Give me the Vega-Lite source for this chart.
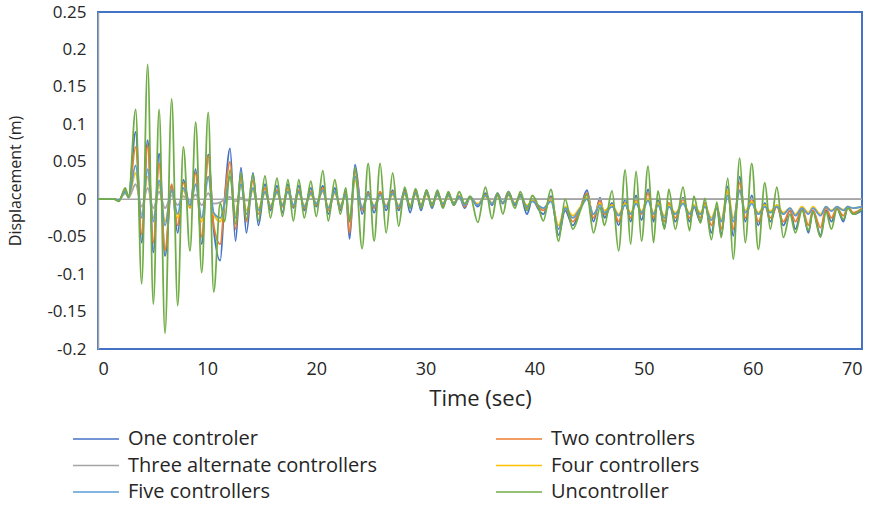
{
  "$schema": "https://vega.github.io/schema/vega-lite/v6.json",
  "width": 764,
  "height": 337,
  "autosize": {"type": "none"},
  "padding": {"left": 98, "top": 12, "right": 20, "bottom": 156},
  "background": "white",
  "config": {"font": "Open Sans", "view": {"stroke": "#4472C4", "strokeWidth": 2}},
  "data": {"values": [
    {"t":0,"g":0,"b":0,"o":0,"gr":0,"y4":0,"lb":0},
    {"t":1.5,"g":0,"b":0,"o":0,"gr":0,"y4":0,"lb":0},
    {"t":1.9,"g":-0.003,"b":-0.002,"o":-0.002,"gr":-0.001,"y4":-0.001,"lb":-0.001},
    {"t":2.5,"g":0.015,"b":0.012,"o":0.012,"gr":0.008,"y4":0.01,"lb":0.01},
    {"t":2.8,"g":0.002,"b":0.003,"o":0.003,"gr":0.002,"y4":0.003,"lb":0.003},
    {"t":3.45,"g":0.12,"b":0.09,"o":0.07,"gr":0.02,"y4":0.035,"lb":0.045},
    {"t":4.0,"g":-0.113,"b":-0.058,"o":-0.047,"gr":-0.01,"y4":-0.02,"lb":-0.025},
    {"t":4.55,"g":0.18,"b":0.079,"o":0.072,"gr":0.015,"y4":0.03,"lb":0.04},
    {"t":5.07,"g":-0.14,"b":-0.071,"o":-0.058,"gr":-0.012,"y4":-0.025,"lb":-0.03},
    {"t":5.6,"g":0.12,"b":0.061,"o":0.048,"gr":0.01,"y4":0.02,"lb":0.025},
    {"t":6.14,"g":-0.179,"b":-0.076,"o":-0.068,"gr":-0.012,"y4":-0.03,"lb":-0.035},
    {"t":6.75,"g":0.134,"b":0.017,"o":0.02,"gr":0.005,"y4":0.01,"lb":0.012},
    {"t":7.3,"g":-0.142,"b":-0.045,"o":-0.035,"gr":-0.008,"y4":-0.025,"lb":-0.02},
    {"t":7.82,"g":0.07,"b":0.026,"o":0.022,"gr":0.004,"y4":0.012,"lb":0.015},
    {"t":8.43,"g":-0.069,"b":-0.01,"o":-0.012,"gr":-0.003,"y4":-0.01,"lb":-0.008},
    {"t":8.95,"g":0.103,"b":0.04,"o":0.035,"gr":0.006,"y4":0.02,"lb":0.02},
    {"t":9.5,"g":-0.098,"b":-0.06,"o":-0.05,"gr":-0.008,"y4":-0.03,"lb":-0.025},
    {"t":10.1,"g":0.116,"b":0.06,"o":0.058,"gr":0.008,"y4":0.03,"lb":0.03},
    {"t":10.6,"g":-0.124,"b":-0.04,"o":-0.035,"gr":-0.006,"y4":-0.02,"lb":-0.018},
    {"t":11.2,"g":-0.005,"b":-0.082,"o":-0.06,"gr":-0.004,"y4":-0.03,"lb":-0.025},
    {"t":11.6,"g":-0.03,"b":0.0,"o":0.0,"gr":0,"y4":-0.005,"lb":-0.005},
    {"t":12.1,"g":0.039,"b":0.068,"o":0.05,"gr":0.003,"y4":0.03,"lb":0.03},
    {"t":12.6,"g":-0.033,"b":-0.056,"o":-0.04,"gr":-0.003,"y4":-0.02,"lb":-0.025},
    {"t":13.1,"g":0.035,"b":0.042,"o":0.03,"gr":0.002,"y4":0.02,"lb":0.02},
    {"t":13.6,"g":-0.027,"b":-0.045,"o":-0.03,"gr":-0.002,"y4":-0.015,"lb":-0.02},
    {"t":14.2,"g":0.033,"b":0.035,"o":0.025,"gr":0,"y4":0.012,"lb":0.015},
    {"t":14.7,"g":-0.029,"b":-0.035,"o":-0.02,"gr":0,"y4":-0.012,"lb":-0.015},
    {"t":15.3,"g":0.031,"b":0.02,"o":0.015,"gr":0,"y4":0.008,"lb":0.01},
    {"t":15.8,"g":-0.025,"b":-0.015,"o":-0.012,"gr":0,"y4":-0.008,"lb":-0.01},
    {"t":16.4,"g":0.028,"b":0.018,"o":0.012,"gr":0,"y4":0.008,"lb":0.01},
    {"t":16.9,"g":-0.023,"b":-0.018,"o":-0.01,"gr":0,"y4":-0.006,"lb":-0.008},
    {"t":17.4,"g":0.026,"b":0.02,"o":0.015,"gr":0,"y4":0.01,"lb":0.01},
    {"t":17.9,"g":-0.029,"b":-0.012,"o":-0.01,"gr":0,"y4":-0.008,"lb":-0.008},
    {"t":18.4,"g":0.026,"b":0.018,"o":0.012,"gr":0,"y4":0.008,"lb":0.01},
    {"t":18.9,"g":-0.025,"b":-0.015,"o":-0.012,"gr":0,"y4":-0.008,"lb":-0.01},
    {"t":19.5,"g":0.024,"b":0.015,"o":0.01,"gr":0,"y4":0.006,"lb":0.008},
    {"t":20.0,"g":-0.023,"b":-0.01,"o":-0.008,"gr":0,"y4":-0.005,"lb":-0.006},
    {"t":20.6,"g":0.038,"b":0.018,"o":0.015,"gr":0,"y4":0.01,"lb":0.012},
    {"t":21.1,"g":-0.029,"b":-0.02,"o":-0.015,"gr":0,"y4":-0.01,"lb":-0.012},
    {"t":21.7,"g":0.026,"b":0.015,"o":0.01,"gr":0,"y4":0.008,"lb":0.01},
    {"t":22.2,"g":-0.02,"b":-0.015,"o":-0.012,"gr":0,"y4":-0.008,"lb":-0.01},
    {"t":22.7,"g":0.015,"b":0.01,"o":0.008,"gr":0,"y4":0.005,"lb":0.006},
    {"t":23.05,"g":-0.03,"b":-0.053,"o":-0.045,"gr":0,"y4":-0.025,"lb":-0.03},
    {"t":23.55,"g":0.042,"b":0.046,"o":0.038,"gr":0,"y4":0.025,"lb":0.03},
    {"t":24.2,"g":-0.066,"b":-0.02,"o":-0.015,"gr":0,"y4":-0.01,"lb":-0.012},
    {"t":24.75,"g":0.048,"b":0.01,"o":0.008,"gr":0,"y4":0.005,"lb":0.006},
    {"t":25.3,"g":-0.056,"b":-0.018,"o":-0.012,"gr":0,"y4":-0.008,"lb":-0.01},
    {"t":25.85,"g":0.048,"b":0.008,"o":0.01,"gr":0,"y4":0.005,"lb":0.006},
    {"t":26.4,"g":-0.045,"b":-0.015,"o":-0.01,"gr":0,"y4":-0.008,"lb":-0.01},
    {"t":27.0,"g":0.035,"b":0.012,"o":0.01,"gr":0,"y4":0.006,"lb":0.008},
    {"t":27.55,"g":-0.036,"b":-0.015,"o":-0.012,"gr":0,"y4":-0.008,"lb":-0.01},
    {"t":28.1,"g":0.016,"b":0.013,"o":0.01,"gr":0,"y4":0.006,"lb":0.008},
    {"t":28.6,"g":-0.012,"b":-0.018,"o":-0.01,"gr":0,"y4":-0.008,"lb":-0.01},
    {"t":29.1,"g":0.014,"b":0.012,"o":0.01,"gr":0,"y4":0.006,"lb":0.008},
    {"t":29.6,"g":-0.012,"b":-0.015,"o":-0.01,"gr":0,"y4":-0.006,"lb":-0.008},
    {"t":30.1,"g":0.012,"b":0.012,"o":0.01,"gr":0,"y4":0.006,"lb":0.008},
    {"t":30.6,"g":-0.01,"b":-0.012,"o":-0.008,"gr":0,"y4":-0.005,"lb":-0.006},
    {"t":31.1,"g":0.012,"b":0.01,"o":0.008,"gr":0,"y4":0.005,"lb":0.006},
    {"t":31.6,"g":-0.012,"b":-0.01,"o":-0.008,"gr":0,"y4":-0.005,"lb":-0.006},
    {"t":32.1,"g":0.01,"b":0.008,"o":0.006,"gr":0,"y4":0.004,"lb":0.005},
    {"t":32.6,"g":-0.008,"b":-0.008,"o":-0.006,"gr":0,"y4":-0.004,"lb":-0.005},
    {"t":33.1,"g":0.01,"b":0.004,"o":0.004,"gr":0,"y4":0.002,"lb":0.003},
    {"t":33.6,"g":-0.006,"b":-0.012,"o":-0.01,"gr":0,"y4":-0.006,"lb":-0.008},
    {"t":34.1,"g":0.004,"b":0.003,"o":0.002,"gr":0,"y4":0.001,"lb":0.002},
    {"t":34.8,"g":-0.031,"b":-0.01,"o":-0.008,"gr":0,"y4":-0.006,"lb":-0.008},
    {"t":35.5,"g":0.016,"b":0.008,"o":0.006,"gr":0,"y4":0.004,"lb":0.005},
    {"t":36.1,"g":-0.026,"b":-0.008,"o":-0.006,"gr":0,"y4":-0.005,"lb":-0.006},
    {"t":36.6,"g":0.008,"b":0.008,"o":0.006,"gr":0,"y4":0.004,"lb":0.005},
    {"t":37.1,"g":-0.02,"b":-0.006,"o":-0.005,"gr":0,"y4":-0.004,"lb":-0.005},
    {"t":37.6,"g":0.01,"b":0.01,"o":0.008,"gr":0,"y4":0.005,"lb":0.006},
    {"t":38.2,"g":-0.012,"b":-0.008,"o":-0.006,"gr":0,"y4":-0.005,"lb":-0.006},
    {"t":38.7,"g":0.01,"b":0.006,"o":0.005,"gr":0,"y4":0.003,"lb":0.004},
    {"t":39.3,"g":-0.015,"b":-0.02,"o":-0.012,"gr":0,"y4":-0.008,"lb":-0.01},
    {"t":39.8,"g":0.005,"b":0.0,"o":0.0,"gr":0,"y4":-0.002,"lb":-0.003},
    {"t":40.3,"g":-0.008,"b":-0.012,"o":-0.01,"gr":0,"y4":-0.008,"lb":-0.008},
    {"t":40.8,"g":-0.029,"b":-0.02,"o":-0.015,"gr":0,"y4":-0.012,"lb":-0.012},
    {"t":41.5,"g":0.013,"b":0.004,"o":0.002,"gr":0,"y4":-0.002,"lb":-0.003},
    {"t":42.2,"g":-0.056,"b":-0.048,"o":-0.04,"gr":0,"y4":-0.035,"lb":-0.04},
    {"t":42.8,"g":0.0,"b":-0.015,"o":-0.012,"gr":0,"y4":-0.01,"lb":-0.012},
    {"t":43.5,"g":-0.04,"b":-0.035,"o":-0.03,"gr":0,"y4":-0.022,"lb":-0.025},
    {"t":44.2,"g":-0.015,"b":-0.012,"o":-0.012,"gr":0,"y4":-0.01,"lb":-0.012},
    {"t":44.8,"g":0.006,"b":0.012,"o":0.008,"gr":0,"y4":0.002,"lb":0.0},
    {"t":45.4,"g":-0.045,"b":-0.03,"o":-0.025,"gr":0,"y4":-0.02,"lb":-0.02},
    {"t":46.0,"g":-0.011,"b":0.002,"o":-0.002,"gr":0,"y4":-0.006,"lb":-0.008},
    {"t":46.4,"g":-0.035,"b":-0.025,"o":-0.02,"gr":0,"y4":-0.015,"lb":-0.018},
    {"t":47.1,"g":0.011,"b":-0.005,"o":-0.008,"gr":0,"y4":-0.008,"lb":-0.01},
    {"t":47.7,"g":-0.069,"b":-0.035,"o":-0.03,"gr":0,"y4":-0.02,"lb":-0.022},
    {"t":48.3,"g":0.039,"b":0.0,"o":-0.005,"gr":0,"y4":-0.006,"lb":-0.008},
    {"t":48.8,"g":-0.06,"b":-0.03,"o":-0.025,"gr":0,"y4":-0.018,"lb":-0.02},
    {"t":49.3,"g":0.037,"b":0.005,"o":0.0,"gr":0,"y4":-0.004,"lb":-0.006},
    {"t":49.8,"g":-0.056,"b":-0.028,"o":-0.02,"gr":0,"y4":-0.016,"lb":-0.018},
    {"t":50.4,"g":0.044,"b":0.013,"o":0.008,"gr":0,"y4":0.0,"lb":-0.002},
    {"t":50.9,"g":-0.058,"b":-0.03,"o":-0.025,"gr":0,"y4":-0.018,"lb":-0.02},
    {"t":51.3,"g":0.011,"b":0.0,"o":-0.005,"gr":0,"y4":-0.006,"lb":-0.008},
    {"t":51.9,"g":-0.04,"b":-0.038,"o":-0.03,"gr":0,"y4":-0.022,"lb":-0.025},
    {"t":52.3,"g":0.013,"b":-0.005,"o":-0.005,"gr":0,"y4":-0.008,"lb":-0.01},
    {"t":52.9,"g":-0.04,"b":-0.03,"o":-0.025,"gr":0,"y4":-0.018,"lb":-0.02},
    {"t":53.6,"g":0.016,"b":0.002,"o":0.0,"gr":0,"y4":-0.005,"lb":-0.006},
    {"t":54.2,"g":-0.042,"b":-0.03,"o":-0.025,"gr":0,"y4":-0.018,"lb":-0.02},
    {"t":54.6,"g":0.004,"b":-0.01,"o":-0.008,"gr":0,"y4":-0.008,"lb":-0.01},
    {"t":55.2,"g":-0.032,"b":-0.03,"o":-0.025,"gr":0,"y4":-0.018,"lb":-0.02},
    {"t":55.6,"g":0.001,"b":-0.005,"o":-0.005,"gr":0,"y4":-0.008,"lb":-0.01},
    {"t":56.2,"g":-0.054,"b":-0.045,"o":-0.035,"gr":0,"y4":-0.025,"lb":-0.028},
    {"t":56.7,"g":-0.004,"b":-0.01,"o":-0.01,"gr":0,"y4":-0.01,"lb":-0.012},
    {"t":57.1,"g":-0.051,"b":-0.048,"o":-0.04,"gr":0,"y4":-0.028,"lb":-0.03},
    {"t":57.7,"g":0.028,"b":0.017,"o":0.01,"gr":0,"y4":0.012,"lb":0.005},
    {"t":58.2,"g":-0.08,"b":-0.049,"o":-0.04,"gr":0,"y4":-0.025,"lb":-0.03},
    {"t":58.8,"g":0.055,"b":0.03,"o":0.022,"gr":0,"y4":0.01,"lb":0.012},
    {"t":59.3,"g":-0.058,"b":-0.03,"o":-0.025,"gr":0,"y4":-0.015,"lb":-0.018},
    {"t":59.9,"g":0.048,"b":0.005,"o":0.0,"gr":0,"y4":-0.004,"lb":-0.006},
    {"t":60.5,"g":-0.067,"b":-0.035,"o":-0.03,"gr":0,"y4":-0.018,"lb":-0.02},
    {"t":61.1,"g":0.022,"b":-0.005,"o":-0.008,"gr":0,"y4":-0.008,"lb":-0.01},
    {"t":61.6,"g":-0.04,"b":-0.03,"o":-0.025,"gr":0,"y4":-0.016,"lb":-0.018},
    {"t":62.2,"g":0.016,"b":-0.008,"o":-0.01,"gr":0,"y4":-0.008,"lb":-0.01},
    {"t":62.8,"g":-0.051,"b":-0.035,"o":-0.03,"gr":0,"y4":-0.018,"lb":-0.02},
    {"t":63.4,"g":-0.02,"b":-0.015,"o":-0.015,"gr":0,"y4":-0.012,"lb":-0.012},
    {"t":63.9,"g":-0.045,"b":-0.04,"o":-0.03,"gr":0,"y4":-0.02,"lb":-0.022},
    {"t":64.5,"g":-0.015,"b":-0.012,"o":-0.012,"gr":0,"y4":-0.01,"lb":-0.012},
    {"t":65.1,"g":-0.042,"b":-0.045,"o":-0.035,"gr":0,"y4":-0.018,"lb":-0.02},
    {"t":65.5,"g":-0.017,"b":-0.015,"o":-0.015,"gr":0,"y4":-0.01,"lb":-0.012},
    {"t":66.2,"g":-0.051,"b":-0.048,"o":-0.038,"gr":0,"y4":-0.02,"lb":-0.022},
    {"t":66.7,"g":-0.017,"b":-0.015,"o":-0.012,"gr":0,"y4":-0.01,"lb":-0.01},
    {"t":67.2,"g":-0.04,"b":-0.03,"o":-0.025,"gr":0,"y4":-0.015,"lb":-0.016},
    {"t":67.7,"g":-0.013,"b":-0.012,"o":-0.012,"gr":0,"y4":-0.01,"lb":-0.01},
    {"t":68.3,"g":-0.027,"b":-0.03,"o":-0.022,"gr":0,"y4":-0.014,"lb":-0.015},
    {"t":68.7,"g":-0.012,"b":-0.01,"o":-0.01,"gr":0,"y4":-0.01,"lb":-0.01},
    {"t":69.2,"g":-0.02,"b":-0.02,"o":-0.018,"gr":0,"y4":-0.012,"lb":-0.012},
    {"t":70,"g":-0.013,"b":-0.015,"o":-0.012,"gr":0,"y4":-0.01,"lb":-0.01}
  ]},
  "encoding": {
    "y": {
      "type": "quantitative",
      "scale": {"domain": [-0.2, 0.25], "nice": false},
      "axis": {
        "values": [-0.2, -0.15, -0.1, -0.05, 0, 0.05, 0.1, 0.15, 0.2, 0.25],
        "labelExpr": "'' + datum.value", "labelOverlap": false,
        "title": "Displacement (m)", "grid": false, "ticks": false,
        "domain": true, "domainColor": "#A6A6A6", "domainWidth": 1.5,
        "labelFontSize": 17, "labelPadding": 12, "labelColor": "#262626",
        "titleFontSize": 16, "titleFontWeight": "normal", "titleColor": "#262626", "titlePadding": 23
      }
    }
  },
  "layer": [
    {
      "data": {"values": [{"z": 0}]},
      "mark": {"type": "rule", "color": "#A6A6A6", "strokeWidth": 1.5},
      "encoding": {"y": {"field": "z", "type": "quantitative", "title": "Displacement (m)"}}
    },
    {
      "transform": [{"fold": ["b", "o", "gr", "y4", "lb", "g"], "as": ["key", "value"]}],
      "mark": {"type": "line", "interpolate": "monotone", "strokeWidth": 1.8},
      "encoding": {
        "x": {
          "field": "t", "type": "quantitative",
          "scale": {"domain": [0, 70], "nice": false},
          "axis": {
            "values": [0, 10, 20, 30, 40, 50, 60, 70],
            "title": "Time (sec)", "grid": false, "domain": false, "ticks": false,
            "labelFontSize": 18, "labelPadding": 11, "labelColor": "#262626", "labelOverlap": false,
            "titleFontSize": 22, "titleFontWeight": "normal", "titleColor": "#262626", "titlePadding": 10
          }
        },
        "y": {"field": "value", "type": "quantitative", "title": "Displacement (m)"},
        "color": {
          "field": "key", "type": "nominal",
          "scale": {
            "domain": ["b", "o", "gr", "y4", "lb", "g"],
            "range": ["#4472C4", "#ED7D31", "#A5A5A5", "#FFC000", "#5B9BD5", "#70AD47"]
          },
          "legend": {
            "title": null, "orient": "none", "legendX": -26, "legendY": 416,
            "direction": "horizontal", "columns": 2, "columnPadding": 118, "rowPadding": 4.5,
            "clipHeight": 22,
            "symbolType": "stroke", "symbolSize": 2116, "symbolStrokeWidth": 1.5,
            "labelFontSize": 20, "labelColor": "#262626", "labelOffset": 8, "labelLimit": 400,
            "labelExpr": "datum.label == 'b' ? 'One controler' : datum.label == 'o' ? 'Two controllers' : datum.label == 'gr' ? 'Three alternate controllers' : datum.label == 'y4' ? 'Four controllers' : datum.label == 'lb' ? 'Five controllers' : 'Uncontroller'"
          }
        }
      }
    }
  ]
}
